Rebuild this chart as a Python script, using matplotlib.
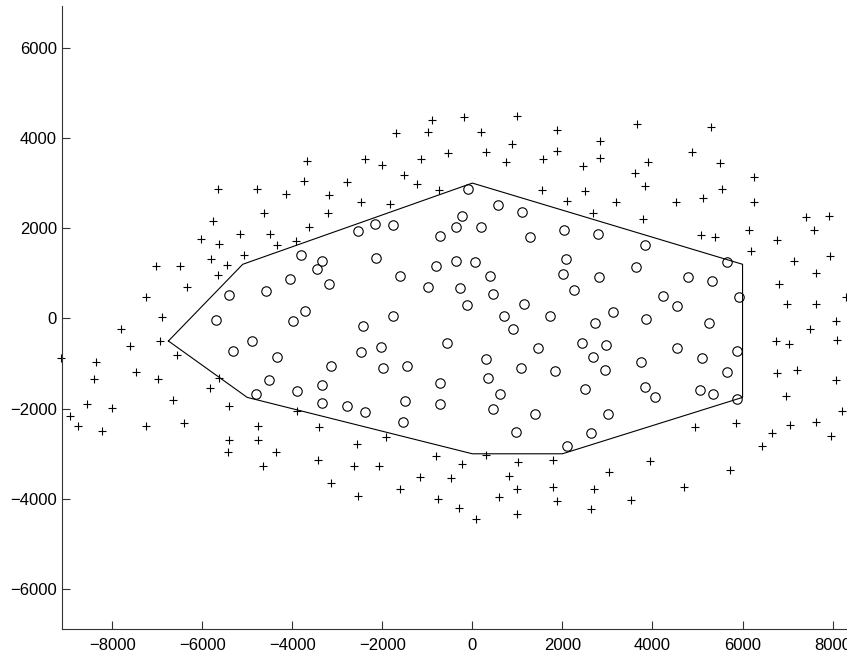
import matplotlib
matplotlib.use("Agg")
import matplotlib.pyplot as plt

plt.rcParams['font.family'] = ['Liberation Sans', 'DejaVu Sans']

# outer ring of '+' points
plus_x = [-5650, -4790, -4630, -5750, -5160, -4490, -6030, -5620, -4340, -5810,
          -5080, -5440, -7020, -6490, -5650, -6340, -7240, -6890, -7800, -6930,
          -7600, -6550, -8350, -8410, -7470, -6990, -5620, -5830, -8560, -8010,
          -6640, -5400, -8940, -8750, -8220, -7240, -6400, -4760, -5400, -4760,
          -5430, -4360, -4640, -9140,
          -900, -190, -1700, -990, 190, -3680, -2380, -2010, -1140, -550,
          -1520, -1240, -3740, -2780, -4140, -3180, -750, -2480, -1830, -3210,
          -3620, -3920,
          -3890, -3400, -1910, -2570, -3430, -2620, -2070, -800, -240, -3150,
          -2530, -1170, -470, -1610, -770, -300, 90,
          990, 1890, 3650, 870, 300, 740, 1570, 1890, 2840, 2840,
          2450, 3900, 3610, 3840, 1550, 2500, 2100, 3180, 2670, 3780,
          4520,
          5300, 4880, 5510, 6260, 5540, 5130, 6260, 7400, 7920, 7580,
          5070, 5380, 6150, 6770, 6180, 7140, 7950, 7630, 6810, 8300,
          6990, 7640, 8070, 7490, 6750, 7030, 8100, 6770, 7200, 8070,
          6960, 8200, 4950, 5860, 7060, 7640, 6660, 7970, 6430, 5720,
          4700,
          300, 1020, 1800, 3950, 3040, 810, 1000, 1800, 2690, 590,
          1890, 3530, 1000, 2630]
plus_y = [2870, 2870, 2330, 2150, 1870, 1870, 1760, 1650, 1630, 1320,
          1400, 1190, 1160, 1160, 960, 700, 480, 30, -230, -510,
          -600, -820, -970, -1340, -1180, -1340, -1320, -1550, -1890, -1990,
          -1800, -1950, -2170, -2390, -2500, -2380, -2320, -2380, -2700, -2700,
          -2970, -2970, -3270, -880,
          4400, 4470, 4100, 4130, 4140, 3500, 3530, 3390, 3530, 3670,
          3170, 2970, 3050, 3020, 2760, 2730, 2850, 2580, 2540, 2330,
          2030, 1710,
          -2060, -2400, -2630, -2790, -3140, -3280, -3280, -3060, -3220, -3650,
          -3940, -3510, -3540, -3790, -4000, -4210, -4450,
          4490, 4180, 4310, 3870, 3680, 3470, 3530, 3720, 3930, 3560,
          3380, 3470, 3220, 2940, 2850, 2830, 2610, 2580, 2330, 2210,
          2580,
          4240, 3690, 3440, 3130, 2860, 2680, 2580, 2250, 2270, 1960,
          1850, 1810, 1960, 1740, 1500, 1280, 1380, 1010, 770, 480,
          320, 320, -50, -230, -510, -570, -480, -1210, -1150, -1360,
          -1720, -2060, -2410, -2310, -2360, -2300, -2540, -2600, -2820, -3360,
          -3730,
          -3030, -3190, -3140, -3160, -3400, -3490, -3790, -3740, -3780, -3960,
          -4050, -4020, -4330, -4230]

# inner 'o' points
circ_x = [-5400, -4580, -5700, -4890, -5320, -4340, -4520, -4800,
          -100, -240, -370, 190, -710, -2170, -1760, -2540, -3800, -3340,
          -3460, -2140, -800, -370, 60, -4050, -3180, -1610, -990, -270,
          -3710, -3990, -2440, -1760, -120, -560, -3150, -2470, -2030, -1980,
          -1450, -3890, -3340, -3340, -2780, -2380, -1490, -1550, -710, -730,
          560, 1110, 1270, 2040, 2790, 3840, 2070, 400, 2010, 2820,
          3630, 4780, 460, 2260, 4240, 1150, 4550, 710, 1730, 900,
          2720, 3120, 3860, 1460, 2440, 2970, 2670, 4550, 310, 1080,
          1830, 2940, 3740, 340, 620, 2500, 3840, 4050, 460, 1390,
          3010, 960, 2640, 2110,
          5660, 5320, 5910, 5260, 5100, 5880, 5660, 5050, 5350, 5880]
circ_y = [510, 600, -40, -510, -720, -850, -1370, -1680,
          2860, 2270, 2030, 2030, 1830, 2090, 2060, 1930, 1410, 1280,
          1100, 1350, 1160, 1280, 1260, 880, 760, 940, 700, 670,
          170, -50, -170, 50, 300, -540, -1060, -750, -630, -1090,
          -1060, -1610, -1470, -1870, -1950, -2080, -1830, -2300, -1440, -1890,
          2520, 2370, 1810, 1970, 1870, 1620, 1310, 950, 980, 910,
          1130, 910, 550, 640, 490, 330, 270, 50, 50, -230,
          -110, 140, -20, -660, -540, -590, -850, -660, -910, -1100,
          -1160, -1150, -960, -1310, -1680, -1560, -1520, -1740, -2010, -2110,
          -2110, -2520, -2540, -2820,
          1250, 820, 470, -110, -880, -730, -1190, -1580, -1680, -1780]

# boundary polygon
poly_x = [-6750, -5100, 0, 6000, 6000, 2000, 0, -5000, -6750]
poly_y = [-500, 1200, 3000, 1200, -1750, -3000, -3000, -1750, -500]

W, H = 847, 652
fig = plt.figure(figsize=(W / 100, H / 100), dpi=100)
x0, x1 = -9120, 8400
y0, y1 = -6890, 6925
sx = 0.04503
left_px, bottom_px = 61.7, 652 - 629.3
ax = fig.add_axes([left_px / W, bottom_px / H, (x1 - x0) * sx / W, 623.3 / H])

axc = '#333333'
ax.plot(poly_x, poly_y, color='black', lw=0.8)
ax.plot(plus_x, plus_y, linestyle='none', marker='+', ms=6.2, mew=0.8,
        color='black', clip_on=False)
ax.plot(circ_x, circ_y, linestyle='none', marker='o', ms=6.8, mew=0.8,
        mfc='none', mec='black')

ax.set_xlim(x0, x1)
ax.set_ylim(y0, y1)
ax.set_xticks(range(-8000, 8001, 2000))
ax.set_yticks(range(-6000, 6001, 2000))
for s in ['top', 'right']:
    ax.spines[s].set_visible(False)
for s in ['left', 'bottom']:
    ax.spines[s].set_color(axc)
    ax.spines[s].set_linewidth(0.8)
ax.tick_params(direction='in', length=5.5, width=0.8, color=axc,
               labelsize=12, labelcolor='black')
ax.tick_params(axis='x', pad=6)
ax.tick_params(axis='y', pad=3.5)

fig.savefig('out.png', dpi=100)
